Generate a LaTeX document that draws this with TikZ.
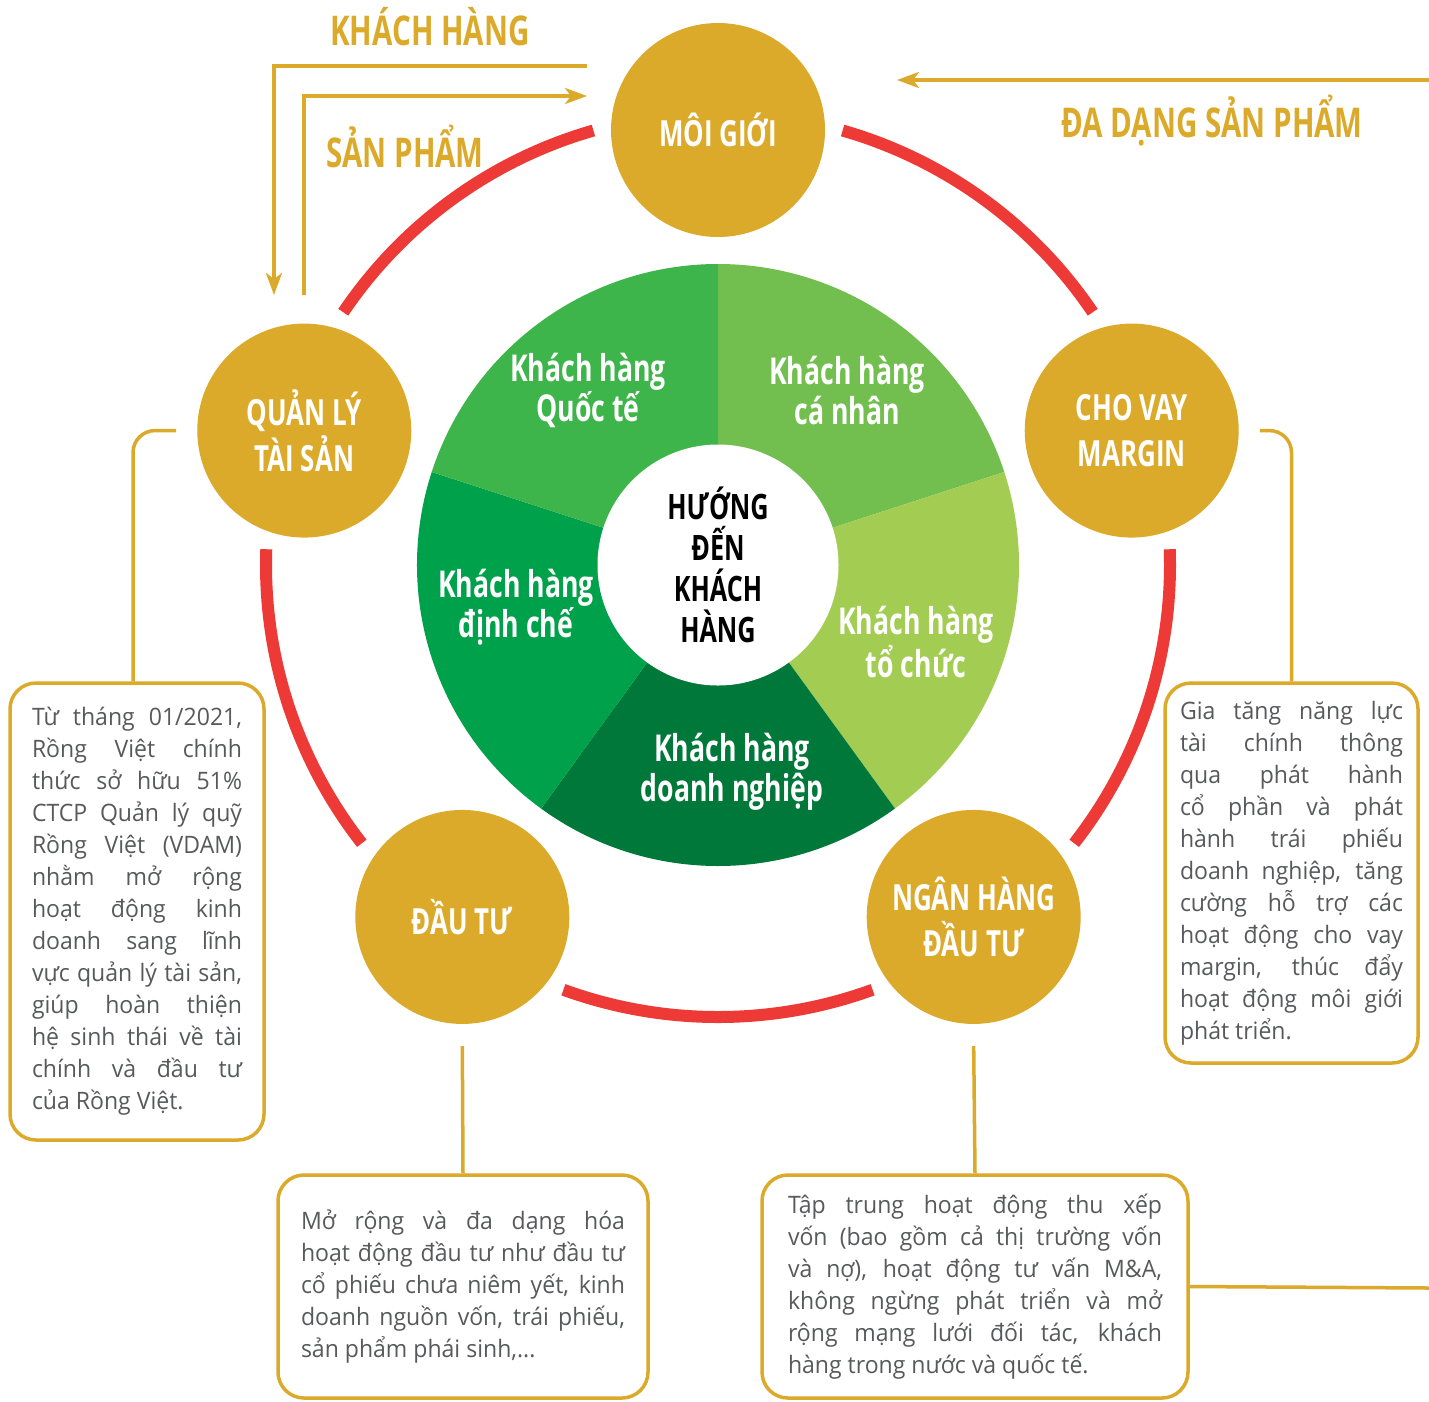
\documentclass[tikz,border=0pt]{standalone}
\usepackage{fontspec}
\setmainfont{Open Sans}[FakeStretch=0.96]
\newfontfamily\narrowfont[FakeStretch=0.72]{Open Sans}
\usetikzlibrary{arrows.meta, positioning}
\definecolor{gold}{HTML}{DCAA2B}
\definecolor{ringred}{HTML}{EE3A37}
\definecolor{quocTe}{HTML}{3DB54A}
\definecolor{caNhan}{HTML}{72BF50}
\definecolor{toChuc}{HTML}{A3CD52}
\definecolor{doanhNghiep}{HTML}{00783A}
\definecolor{dinhChe}{HTML}{00A14B}
\definecolor{bodygray}{HTML}{58595B}
\hyphenpenalty=10000
\exhyphenpenalty=10000

\begin{document}
\begin{tikzpicture}[x=1pt, y=1pt,
    unit/.style={
      circle, fill=gold, minimum size=214pt, inner sep=0pt, align=center,
      text=white, font=\narrowfont\bfseries\fontsize{36}{46}\selectfont},
    segment/.style={
      align=center, text=white,
      font=\narrowfont\bfseries\fontsize{37}{40}\selectfont},
    caption/.style={
      text=gold, font=\narrowfont\bfseries\fontsize{41}{42}\selectfont},
    note/.style={
      rectangle, draw=gold, line width=3.5pt, rounded corners=26pt,
      fill=white, align=justify, text=bodygray,
      font=\fontsize{24}{32}\selectfont},
    link/.style={gold, line width=3.5pt, rounded corners=22pt},
    flow/.style={gold, line width=3.5pt,
      -{Stealth[length=22pt, width=16pt, inset=6pt]}},
    ring/.style={ringred, line width=12pt}
  ]
  \fill[white] (0,0) rectangle (1429,-1401);
  \useasboundingbox (0,0) rectangle (1429,-1401);
  \coordinate (hub) at (718,-565);

  % --- Pie of client groups ---
  \foreach \a/\b/\col in {90/18/caNhan, 18/-54/toChuc, -54/-126/doanhNghiep,
                          -126/-198/dinhChe, -198/-270/quocTe}
    \fill[\col] (hub) -- ++(\a:301) arc[start angle=\a, end angle=\b, radius=301] -- cycle;
  \node[circle, fill=white, minimum size=241pt, inner sep=0pt, align=center,
        font=\narrowfont\bfseries\fontsize{35}{41}\selectfont] (core) at (hub)
        {HƯỚNG\\ĐẾN\\KHÁCH\\HÀNG};

  \node[segment] (quocte) at (588,-390) {Khách hàng\\Quốc tế};
  \node[segment] (canhan) at (847,-390) {Khách hàng\\cá nhân};
  \node[segment] (dinhche) at (516,-607) {Khách hàng\\định chế};
  \node[segment] (tochuc) at (916,-642) {Khách hàng\\tổ chức};
  \node[segment] (doanhnghiep) at (732,-772) {Khách hàng\\doanh nghiệp};

  % --- Red ring ---
  \foreach \s/\e in {106/146, 34/74, -38/2, -110/-70, 178/218}
    \draw[ring] ([shift={(\s:452)}]hub) arc[start angle=\s, end angle=\e, radius=452];

  % --- Business units ---
  \node[unit] (mg) at ([shift={(90:435)}]hub) {MÔI GIỚI};
  \node[unit] (qlts) at ([shift={(162:435)}]hub) {QUẢN LÝ\\TÀI SẢN};
  \node[unit] (cvm) at ([shift={(18:435)}]hub) {CHO VAY\\MARGIN};
  \node[unit] (dt) at ([shift={(234:435)}]hub) {ĐẦU TƯ};
  \node[unit] (nhdt) at ([shift={(-54:435)}]hub) {NGÂN HÀNG\\ĐẦU TƯ};

  % --- Notes ---
  \node[note, text width=210pt, inner xsep=22pt, minimum height=457pt] (qltsnote) at (137,-911.5)
    {Từ tháng 01/2021,\linebreak Rồng Việt chính\linebreak thức sở hữu 51\%\linebreak
     CTCP Quản lý quỹ\linebreak Rồng Việt (VDAM)\linebreak nhằm mở rộng\linebreak
     hoạt động kinh\linebreak doanh sang lĩnh\linebreak vực quản lý tài sản,\linebreak
     giúp hoàn thiện\linebreak hệ sinh thái về tài\linebreak chính và đầu tư\linebreak
     của Rồng Việt.};
  \node[note, text width=223pt, inner xsep=15pt, minimum height=380pt] (cvmnote) at (1291.5,-873)
    {Gia tăng năng lực\linebreak tài chính thông\linebreak qua phát hành\linebreak
     cổ phần và phát\linebreak hành trái phiếu\linebreak doanh nghiệp, tăng\linebreak
     cường hỗ trợ các\linebreak hoạt động cho vay\linebreak margin, thúc đẩy\linebreak
     hoạt động môi giới\linebreak phát triển.};
  \node[note, text width=324pt, inner xsep=23pt, minimum height=223pt] (dtnote) at (463,-1286.5)
    {Mở rộng và đa dạng hóa\linebreak hoạt động đầu tư như đầu tư\linebreak
     cổ phiếu chưa niêm yết, kinh\linebreak doanh nguồn vốn, trái phiếu,\linebreak
     sản phẩm phái sinh,...};
  \node[note, text width=374pt, inner xsep=26pt, minimum height=223pt] (nhdtnote) at (975,-1286.5)
    {Tập trung hoạt động thu xếp\linebreak vốn (bao gồm cả thị trường vốn\linebreak
     và nợ), hoạt động tư vấn M\&A,\linebreak không ngừng phát triển và mở\linebreak
     rộng mạng lưới đối tác, khách\linebreak hàng trong nước và quốc tế.};

  % --- Note links ---
  \draw[link] ([xshift=-21pt]qlts.west) -| ([xshift=-4pt]qltsnote.north);
  \draw[link] ([xshift=21pt]cvm.east) -| (cvmnote.north);
  \draw[link] ([yshift=-22pt]dt.south) -- (dtnote.north);
  \draw[link] ([yshift=-22pt]nhdt.south) -- (nhdtnote.north);
  \coordinate (rightedge) at (1429,-1288);
  \draw[link] (nhdtnote.east) -- (rightedge);

  % --- Flows at the top ---
  \coordinate (khStart) at (587,-66);
  \coordinate (khEnd) at (274,-295);
  \coordinate (spStart) at (304,-295);
  \coordinate (spEnd) at (587,-96);
  \coordinate (ddStart) at (1429,-80);
  \coordinate (ddEnd) at (897,-80);
  \draw[flow] (khStart) -| (khEnd);
  \draw[flow] (spStart) |- (spEnd);
  \draw[flow] (ddStart) -- (ddEnd);

  \node[caption] (khlabel) at (430,-27) {KHÁCH HÀNG};
  \node[caption] (splabel) at (405,-146) {SẢN PHẨM};
  \node[caption] (ddlabel) at (1212,-121) {ĐA DẠNG SẢN PHẨM};
\end{tikzpicture}
\end{document}
